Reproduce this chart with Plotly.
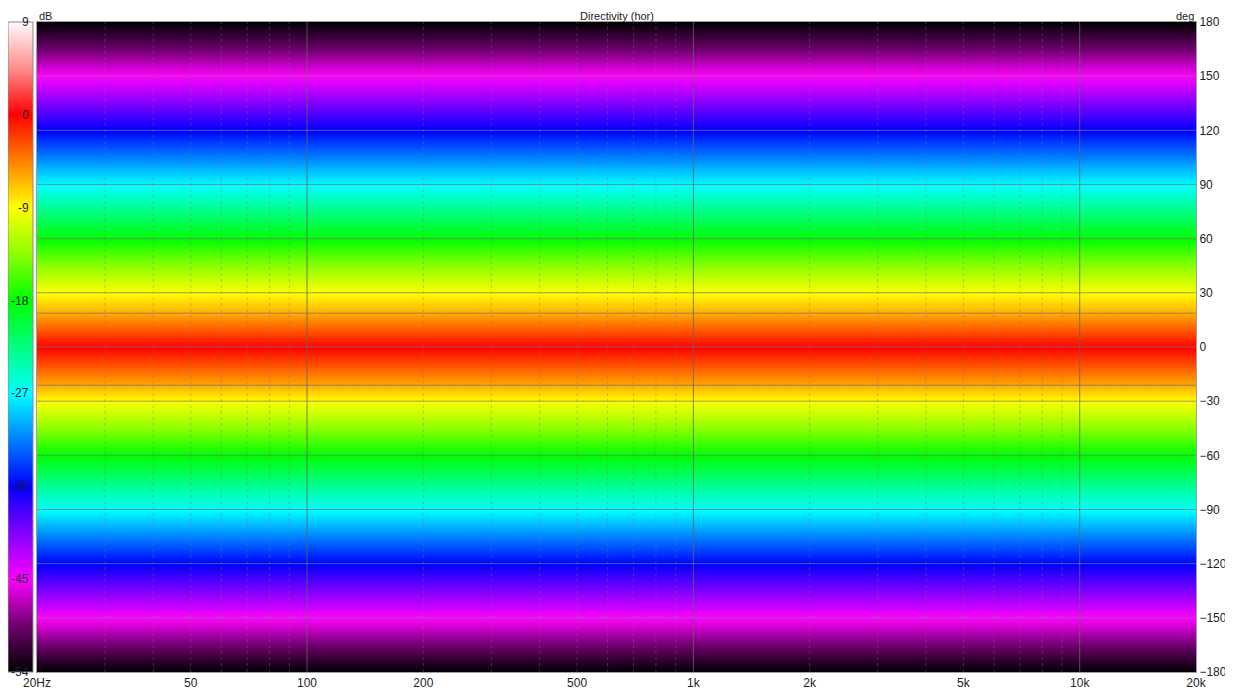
import plotly.graph_objects as go
import numpy as np

# Directivity (horizontal) - level vs angle, flat across frequency
freqs = [20, 50, 100, 200, 500, 1000, 2000, 5000, 10000, 20000]
angles = [-180, -170, -160, -150, -140, -130, -120, -110, -100, -90,
          -80, -70, -60, -50, -40, -30, -20, -10, 0,
          10, 20, 30, 40, 50, 60, 70, 80, 90,
          100, 110, 120, 130, 140, 150, 160, 170, 180]
level_db = [-54, -51, -48, -45, -42, -39, -36, -33, -30, -27,
            -24, -21, -18, -15, -12, -9, -5.6, -2.8, 0,
            -3.2, -6.4, -9, -12, -15, -18, -21, -24, -27,
            -30, -33, -36, -39, -42, -45, -48, -51, -54]

db_ticks = [9, 0, -9, -18, -27, -36, -45, -54]
deg_ticks = [180, 150, 120, 90, 60, 30, 0, -30, -60, -90, -120, -150, -180]
freq_ticks = [20, 50, 100, 200, 500, 1000, 2000, 5000, 10000, 20000]
freq_labels = ['20Hz', '50', '100', '200', '500', '1k', '2k', '5k', '10k', '20k']
isobar_db = -6

# same angular profile at every frequency
z = [[v] * len(freqs) for v in level_db]

zmin, zmax = -54, 9
def pos(v):
    return (v - zmin) / (zmax - zmin)

colorscale = [
    [pos(-54), 'rgb(0,0,0)'],
    [pos(-49.5), 'rgb(110,0,110)'],
    [pos(-45), 'rgb(255,0,255)'],
    [pos(-40.5), 'rgb(128,0,255)'],
    [pos(-36), 'rgb(0,0,255)'],
    [pos(-31.5), 'rgb(0,128,255)'],
    [pos(-27), 'rgb(0,255,255)'],
    [pos(-22.5), 'rgb(0,255,128)'],
    [pos(-18), 'rgb(0,255,0)'],
    [pos(-13.5), 'rgb(140,255,0)'],
    [pos(-9), 'rgb(255,255,0)'],
    [pos(-4.5), 'rgb(255,130,0)'],
    [pos(0), 'rgb(255,0,0)'],
    [pos(4.5), 'rgb(255,140,140)'],
    [pos(9), 'rgb(255,250,250)'],
]

# page body adds 8px, so the figure is 8px smaller than the window
W, H = 1225, 692
ML, MR, MT, MB = 29, 37, 14, 28
plot_w = W - ML - MR

fig = go.Figure()

fig.add_trace(go.Heatmap(
    x=freqs, y=angles, z=z,
    zmin=zmin, zmax=zmax,
    colorscale=colorscale,
    zsmooth='best',
    colorbar=dict(
        x=-ML / plot_w, xanchor='left',
        y=0.5, yanchor='middle', len=1,
        thickness=25, thicknessmode='pixels',
        xpad=0, ypad=0,
        showticklabels=False, ticks='',
        outlinewidth=1, outlinecolor='#8a8a8a',
    ),
))

# -6 dB isobar
fig.add_trace(go.Contour(
    x=freqs, y=angles, z=z,
    contours=dict(coloring='none', start=isobar_db, end=isobar_db, size=1),
    line=dict(color='rgba(120,120,120,0.8)', width=1),
    showscale=False, hoverinfo='skip',
))

# grid drawn on top of the map
minor_grid = [m * d for d in [10, 100, 1000, 10000] for m in range(2, 10)
              if 20 < m * d < 20000]
decade_grid = [100, 1000, 10000]
for f in minor_grid:
    fig.add_vline(x=f, line=dict(color='rgba(120,120,120,0.4)', width=1, dash='dot'))
for f in decade_grid:
    fig.add_vline(x=f, line=dict(color='rgba(100,100,100,0.8)', width=1))
for a in deg_ticks[1:-1]:
    fig.add_hline(y=a, line=dict(color='rgba(120,120,120,0.75)', width=1))

font = dict(family='Liberation Sans', size=12, color='#222222')
top_font = dict(family='Liberation Sans', size=11, color='#222222')

# colour bar labels, sitting inside the bar
cb_labels = [dict(text=str(v), x=-6 / plot_w, y=pos(v), xref='paper', yref='paper',
                  xanchor='right', yanchor='middle', showarrow=False,
                  font=dict(family='Liberation Sans', size=12, color='#1c1c3c'))
             for v in db_ticks]

# texts above the plot, hanging from the top of the figure
top_texts = [('Directivity (hor)', 0.5, 'center'), ('dB', 0, 'left'), ('deg', 1, 'right')]
top_labels = [dict(text=t, x=x, y=1, xref='paper', yref='paper', xanchor=a,
                   yanchor='top', yshift=MT, showarrow=False, font=top_font)
              for t, x, a in top_texts]

fig.update_layout(
    width=W, height=H,
    margin=dict(l=ML, r=MR, t=MT, b=MB, autoexpand=False),
    paper_bgcolor='white', plot_bgcolor='white',
    font=font,
    showlegend=False,
    xaxis=dict(
        type='log', range=[np.log10(20), np.log10(20000)],
        tickvals=freq_ticks, ticktext=freq_labels,
        showgrid=False, zeroline=False, ticks='',
        showline=True, linecolor='#a0a0a0', mirror=True,
        tickfont=font,
    ),
    yaxis=dict(
        range=[-180, 180], side='right',
        tickvals=deg_ticks, showgrid=False, zeroline=False, ticks='',
        showline=True, linecolor='#a0a0a0', mirror=True,
        tickfont=font,
    ),
    annotations=top_labels + cb_labels,
)

fig.write_html("out.html")
